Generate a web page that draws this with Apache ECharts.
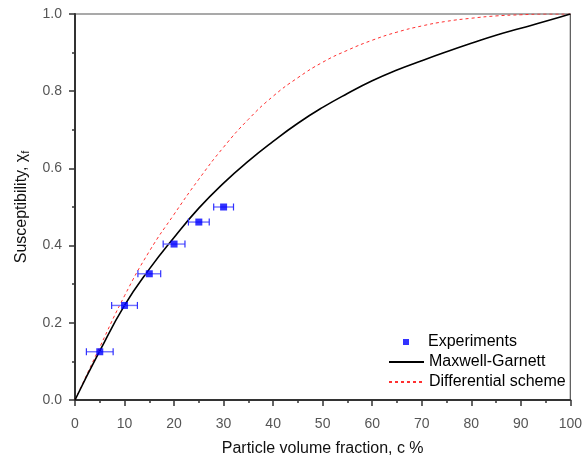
<!DOCTYPE html>
<html><head><meta charset="utf-8">
<script src="https://cdn.jsdelivr.net/npm/echarts@6/dist/echarts.min.js"></script>
<style>html,body{margin:0;padding:0;background:#fff}#c{width:585px;height:462px}</style>
</head><body><div id="c"></div>
<script>
// Curve sampling grid (particle volume fraction, %)
const fractionGrid = [0,5,10,15,20,25,30,35,40,45,50,55,60,65,70,75,80,85,90,95,100];
// Maxwell-Garnett curve
const maxwellGarnett = [0,0.127,0.245,0.339,0.421,0.497,0.562,0.619,0.67,0.717,0.758,0.794,0.827,0.855,0.879,0.902,0.924,0.945,0.963,0.981,1.0];
// Differential scheme curve
const differentialScheme = [0,0.137,0.27,0.385,0.481,0.572,0.655,0.727,0.787,0.835,0.875,0.906,0.932,0.953,0.969,0.981,0.989,0.995,0.998,1.0,1.0];
// Experiments
const expFraction = [5,10,15,20,25,30];
const expSusceptibility = [0.125,0.245,0.327,0.404,0.461,0.500];
const expFractionErr = [2.7,2.6,2.3,2.2,2.1,2.0];

const zip = (a,b)=>a.map((v,i)=>[v,b[i]]);
const errData = expFraction.map((v,i)=>[v,expSusceptibility[i],expFractionErr[i]]);

const chart = echarts.init(document.getElementById('c'), null, {renderer:'canvas'});
const axisColor = '#333';
const FONT = 'Liberation Sans, Arial, sans-serif';
const labelStyle = {color:'#555', fontSize:14, fontFamily:FONT};
chart.setOption({
  animation:false,
  backgroundColor:'#fff',
  grid:{left:75,right:10,top:14,bottom:59,show:true,borderColor:'#555',borderWidth:1.2,backgroundColor:'transparent'},
  xAxis:{
    type:'value',min:0,max:100,interval:10,
    name:'Particle volume fraction, c %',nameLocation:'middle',nameGap:41,
    nameTextStyle:{color:'#111',fontSize:16,fontFamily:FONT},
    axisLine:{show:true,onZero:false,lineStyle:{color:axisColor,width:2}},
    axisTick:{show:true,length:6,lineStyle:{color:axisColor,width:1.5}},
    minorTick:{show:true,splitNumber:2,length:3,lineStyle:{color:axisColor,width:1.5}},
    splitLine:{show:false},
    axisLabel:Object.assign({margin:17},labelStyle)
  },
  yAxis:{
    type:'value',min:0,max:1,interval:0.2,
    name:'{a|Susceptibility, χ}{s|f}',nameLocation:'middle',nameGap:44,
    nameTextStyle:{color:'#111',fontSize:16,fontFamily:FONT,
      rich:{a:{fontSize:16,color:'#111',fontFamily:FONT},
            s:{fontSize:11,color:'#111',verticalAlign:'bottom',padding:[7,0,0,0],fontFamily:FONT}}},
    axisLine:{show:true,onZero:false,lineStyle:{color:axisColor,width:2}},
    axisTick:{show:true,length:6,lineStyle:{color:axisColor,width:1.5}},
    minorTick:{show:true,splitNumber:2,length:3,lineStyle:{color:axisColor,width:1.5}},
    splitLine:{show:false},
    axisLabel:Object.assign({margin:13,formatter:v=>v.toFixed(1)},labelStyle)
  },
  legend:[
    {data:['Experiments'],orient:'vertical',left:403,top:334,padding:0,itemWidth:6,itemHeight:6,
     textStyle:{color:'#000',fontSize:16,fontFamily:FONT,padding:[0,0,0,14]},
     itemStyle:{borderWidth:0}},
    {data:['Maxwell-Garnett','Differential scheme'],orient:'vertical',left:388,top:354,padding:0,itemWidth:35,itemHeight:14,itemGap:4,
     itemStyle:{opacity:0},
     textStyle:{color:'#000',fontSize:16,fontFamily:FONT}}
  ],
  series:[
    {name:'Differential scheme',type:'line',data:zip(fractionGrid,differentialScheme),smooth:0.5,
     showSymbol:false,symbol:'none',lineStyle:{color:'#ff3030',width:1,type:[3,3]},itemStyle:{color:'#ff3030'},z:3},
    {name:'Maxwell-Garnett',type:'line',data:zip(fractionGrid,maxwellGarnett),smooth:0.5,
     showSymbol:false,symbol:'none',lineStyle:{color:'#000',width:1.6},itemStyle:{color:'#000'},z:4},
    {name:'errors',type:'custom',data:errData,z:5,silent:true,
     renderItem:(params,api)=>{
       const x=api.value(0),y=api.value(1),e=api.value(2);
       const l=api.coord([x-e,y]), r=api.coord([x+e,y]);
       const st={stroke:'#7070ff',lineWidth:1.4};
       const cs={stroke:'#3030ff',lineWidth:1.2};
       return {type:'group',children:[
         {type:'line',shape:{x1:l[0],y1:l[1],x2:r[0],y2:r[1]},style:st},
         {type:'line',shape:{x1:l[0],y1:l[1]-3.5,x2:l[0],y2:l[1]+3.5},style:cs},
         {type:'line',shape:{x1:r[0],y1:r[1]-3.5,x2:r[0],y2:r[1]+3.5},style:cs}
       ]};
     }},
    {name:'Experiments',type:'scatter',data:zip(expFraction,expSusceptibility),symbol:'rect',symbolSize:7,
     itemStyle:{color:'#0000ff'},z:6}
  ]
});
</script></body></html>
